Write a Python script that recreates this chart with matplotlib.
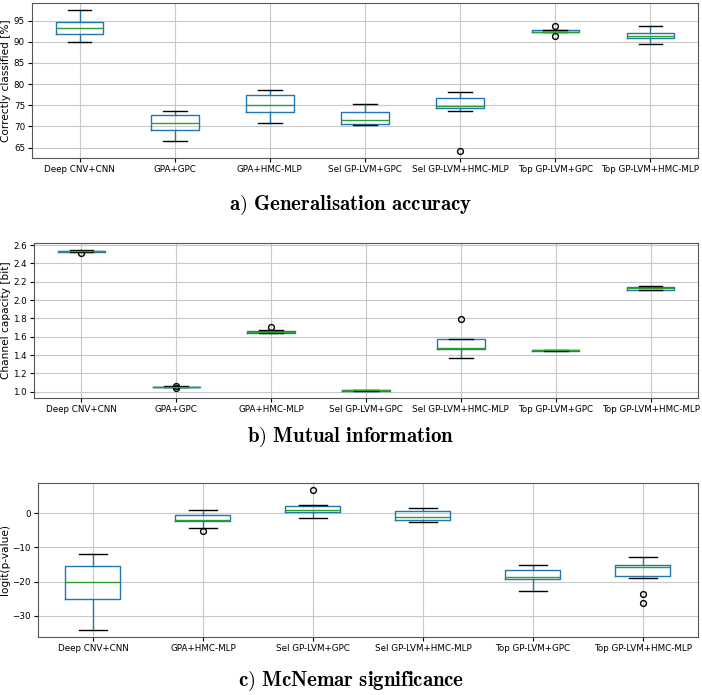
import matplotlib
matplotlib.use("Agg")
import matplotlib.pyplot as plt

plt.rcParams['mathtext.fontset'] = 'cm'

methods_ab = ['Deep CNV+CNN', 'GPA+GPC', 'GPA+HMC-MLP', 'Sel GP-LVM+GPC',
              'Sel GP-LVM+HMC-MLP', 'Top GP-LVM+GPC', 'Top GP-LVM+HMC-MLP']
methods_c = ['Deep CNV+CNN', 'GPA+HMC-MLP', 'Sel GP-LVM+GPC',
             'Sel GP-LVM+HMC-MLP', 'Top GP-LVM+GPC', 'Top GP-LVM+HMC-MLP']

# box stats: whislo, q1, med, q3, whishi, fliers
acc_whislo = [89.85, 66.6, 70.9, 70.3, 73.75, 92.2, 89.4]
acc_q1 = [91.9, 69.2, 73.3, 70.6, 74.3, 92.2, 90.8]
acc_med = [93.2, 70.9, 75.1, 71.6, 74.9, 92.4, 91.3]
acc_q3 = [94.6, 72.6, 77.5, 73.4, 76.6, 92.7, 92.0]
acc_whishi = [97.5, 73.75, 78.5, 75.2, 78.05, 92.8, 93.7]
acc_fliers = [[], [], [], [], [64.2], [93.7, 91.3], []]

mi_whislo = [2.52, 1.047, 1.64, 1.008, 1.364, 1.445, 2.11]
mi_q1 = [2.525, 1.049, 1.645, 1.011, 1.462, 1.447, 2.115]
mi_med = [2.53, 1.052, 1.655, 1.014, 1.48, 1.45, 2.127]
mi_q3 = [2.538, 1.055, 1.665, 1.018, 1.571, 1.455, 2.14]
mi_whishi = [2.545, 1.058, 1.67, 1.02, 1.571, 1.458, 2.148]
mi_fliers = [[2.513], [1.066, 1.04], [1.705], [], [1.793], [], []]

mc_whislo = [-34.1, -4.2, -1.46, -2.43, -22.8, -18.93]
mc_q1 = [-25.05, -2.24, 0.29, -1.86, -19.2, -18.45]
mc_med = [-20.1, -1.86, 0.87, -1.17, -18.75, -15.65]
mc_q3 = [-15.55, -0.5, 2.04, 0.77, -16.5, -15.15]
mc_whishi = [-12.05, 0.87, 2.33, 1.46, -15.15, -12.8]
mc_fliers = [[], [-5.25], [6.8], [], [], [-23.6, -26.2]]


def make_stats(lo, q1, med, q3, hi, fl):
    return [dict(whislo=a, q1=b, med=c, q3=d, whishi=e, fliers=f)
            for a, b, c, d, e, f in zip(lo, q1, med, q3, hi, fl)]


def draw(ax, stats, labels, ylabel):
    ax.bxp(stats,
           boxprops=dict(color='C0', lw=1),
           whiskerprops=dict(color='C0', lw=1),
           medianprops=dict(color='C2', lw=1),
           capprops=dict(color='k', lw=1),
           flierprops=dict(marker='o', markerfacecolor='none',
                           markeredgecolor='k', markersize=4.2, lw=0.8))
    ax.set_xticks(range(1, len(labels) + 1))
    ax.set_xticklabels(labels, fontsize=6.2)
    ax.tick_params(axis='both', labelsize=6.3, length=3, pad=2)
    ax.set_ylabel(ylabel, fontsize=7.6, labelpad=2)
    ax.grid(True, color='#c8c8c8', lw=0.8)
    ax.set_axisbelow(True)
    for s in ax.spines.values():
        s.set_color('#555555')


fig = plt.figure(figsize=(7.02, 6.95), dpi=100)

ax1 = fig.add_axes([0.0456, 0.7727, 0.9487, 0.223])
draw(ax1, make_stats(acc_whislo, acc_q1, acc_med, acc_q3, acc_whishi, acc_fliers),
     methods_ab, 'Correctly classified [%]')
ax1.set_yticks([65, 70, 75, 80, 85, 90, 95])

ax2 = fig.add_axes([0.0484, 0.4273, 0.9459, 0.223])
draw(ax2, make_stats(mi_whislo, mi_q1, mi_med, mi_q3, mi_whishi, mi_fliers),
     methods_ab, 'Channel capacity [bit]')
ax2.set_yticks([1.0, 1.2, 1.4, 1.6, 1.8, 2.0, 2.2, 2.4, 2.6])

ax3 = fig.add_axes([0.0541, 0.0835, 0.940, 0.2216])
draw(ax3, make_stats(mc_whislo, mc_q1, mc_med, mc_q3, mc_whishi, mc_fliers),
     methods_c, 'logit(p-value)')
ax3.set_yticks([-30, -20, -10, 0])

fig.text(0.5, 0.705, r'$\mathbf{a)\ Generalisation\ accuracy}$', ha='center', va='center', fontsize=15)
fig.text(0.5, 0.370, r'$\mathbf{b)\ Mutual\ information}$', ha='center', va='center', fontsize=15)
fig.text(0.5, 0.019, r'$\mathbf{c)\ McNemar\ significance}$', ha='center', va='center', fontsize=15)

fig.savefig('out.png', dpi=100)
